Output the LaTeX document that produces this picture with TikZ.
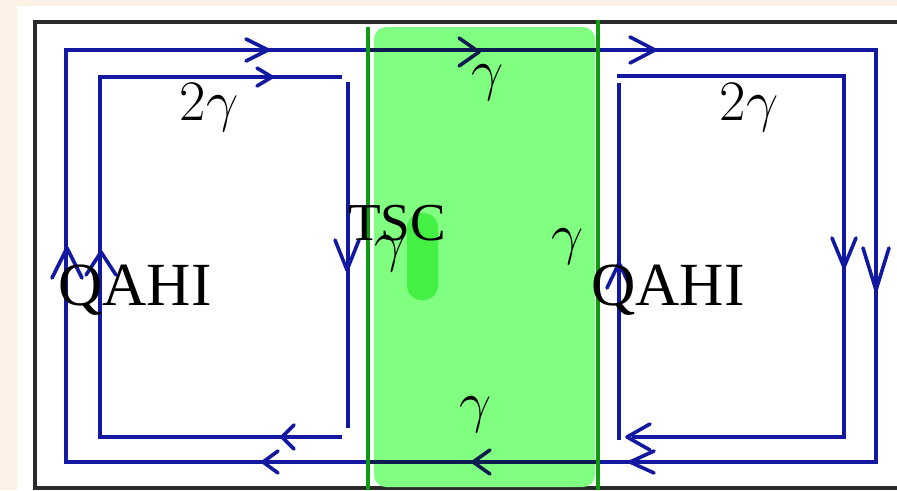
\documentclass[tikz,border=0pt]{standalone}
\usepackage{fix-cm}
\usepackage{fontspec}
\newfontfamily\timesf{Liberation Serif}
\definecolor{cream}{HTML}{FBF1E6}
\definecolor{framec}{HTML}{2A2A2A}
\definecolor{qblue}{HTML}{1218A0}
\definecolor{navy}{HTML}{0C1C4E}
\definecolor{tscfill}{HTML}{80FF80}
\definecolor{tscbright}{HTML}{44F044}
\definecolor{tscline}{HTML}{109A10}
\newcommand\chevron[6][qblue]{\draw[chev, draw=#1, shift={(#2,#3)}, rotate=#4] (-#5,#6) -- (0,0) -- (-#5,-#6);}
\begin{document}
\begin{tikzpicture}[x=0.75pt,y=-0.75pt,
  frame/.style={draw=framec, line width=2.3pt},
  edge/.style={draw=qblue, line width=3.2pt},
  darkedge/.style={draw=navy, line width=3.2pt},
  chev/.style={line width=2.7pt, line cap=round, line join=round},
  tscline/.style={draw=tscline, line width=2.4pt},
  mlab/.style={font=\fontsize{43}{43}\selectfont, inner sep=0pt},
  qlab/.style={font=\timesf\fontsize{46}{46}\selectfont, inner sep=0pt},
  tlab/.style={font=\timesf\fontsize{40}{40}\selectfont, inner sep=0pt}]
\useasboundingbox (0,0) rectangle (897,490);
\clip (0,0) rectangle (897,490);
\fill[cream] (0,0) rectangle (897,490);
\fill[white] (17,6) rectangle (897,490);
\draw[frame] (35,22) rectangle (915,488);
% superconductor region
\fill[tscfill, rounded corners=9pt] (374,27) rectangle (595,487);
\fill[tscbright, rounded corners=11pt] (407,213) rectangle (438,300);
% outer loop
\draw[edge] (66,50) -- (876,50) -- (876,462) -- (66,462) -- cycle;
\draw[darkedge] (369,50) -- (597,50);
\draw[darkedge] (369,462) -- (597,462);
% inner left loop
\draw[edge] (342,77) -- (100,77) -- (100,437) -- (342,437);
\draw[edge] (348,82) -- (348,428);
% inner right loop
\draw[edge] (617,76) -- (844,76) -- (844,437) -- (632,437);
\draw[edge] (619,83) -- (619,440);
% arrowheads
\chevron{268}{50}{0}{22}{11}
\chevron[navy]{479}{52}{0}{20}{14}
\chevron{655}{50}{0}{25}{13}
\chevron{272}{77}{0}{15}{9}
\chevron{347}{270}{-90}{30}{12}
\chevron{67}{248}{90}{30}{15}
\chevron{101}{252}{90}{23}{15}
\chevron{282}{437}{180}{12}{12}
\chevron{263}{462}{180}{15}{11}
\chevron[navy]{473}{462}{180}{17}{12}
\chevron{630}{462}{180}{24}{11}
\chevron{627}{437}{180}{23}{13}
\chevron{619}{263}{90}{25}{12}
\chevron{844}{267}{-90}{29}{12}
\chevron{876}{290}{-90}{42}{13}
% boundary lines of the superconductor
\draw[tscline] (368,27) -- (368,490);
\draw[tscline] (598,20) -- (598,490);
% labels
\node[mlab, anchor=base] (twoL) at (209,120) {$2\gamma$};
\node[mlab, anchor=base] (twoR) at (749,120) {$2\gamma$};
\node[mlab, anchor=base] (gtop) at (488,89) {$\gamma$};
\node[mlab, anchor=base] (gbot) at (476,421) {$\gamma$};
\node[mlab, anchor=base] (gleft) at (391,260) {$\gamma$};
\node[mlab, anchor=base] (gright) at (568,253) {$\gamma$};
\node[tlab, anchor=base] (tsc) at (397,240) {TSC};
\node[qlab, anchor=base] (qahiL) at (135,305) {QAHI};
\node[qlab, anchor=base] (qahiR) at (668,305) {QAHI};
\end{tikzpicture}
\end{document}
